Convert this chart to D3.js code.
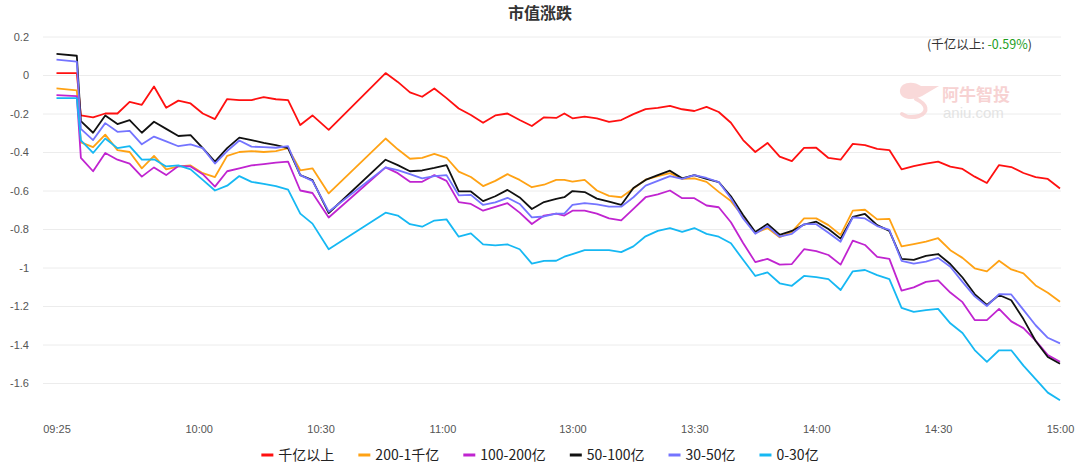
<!DOCTYPE html>
<html>
<head>
<meta charset="utf-8">
<script src="https://cdn.jsdelivr.net/npm/d3@7"></script>
<style>
body { margin: 0; background: #fff; }
svg { display: block; font-family: "Liberation Sans", Arial, "Noto Sans CJK SC", sans-serif; }
.cjk { font-family: "Noto Sans CJK SC", "Liberation Sans", sans-serif; }
</style>
</head>
<body>
<svg id="chart"></svg>
<script>
// sample times (every 3 min, data gap between 10:32 and 10:46)
let times = ["09:25","09:30","09:31","09:34","09:37","09:40","09:43","09:46","09:49","09:52",
    "09:55","09:58","10:01","10:04","10:07","10:10","10:13","10:16","10:19","10:22",
    "10:25","10:28","10:32","10:46","10:49","10:52","10:55","10:58","11:01","11:04",
    "11:07","11:10","11:13","11:16","11:19","11:22","11:25","11:28","11:30",
    "13:00","13:03","13:06","13:09","13:12","13:15","13:18","13:21","13:24","13:27",
    "13:30","13:33","13:36","13:39","13:42","13:45","13:48","13:51","13:54","13:57",
    "14:00","14:03","14:06","14:09","14:12","14:15","14:18","14:21","14:24","14:27",
    "14:30","14:33","14:36","14:39","14:42","14:45","14:48","14:51","14:54","14:57","15:00"];

let tickLabels = ["09:25","10:00","10:30","11:00","13:00","13:30","14:00","14:30","15:00"];
let yTicks = [0.2, 0, -0.2, -0.4, -0.6, -0.8, -1, -1.2, -1.4, -1.6];

let seriesNames = ["千亿以上", "200-1千亿", "100-200亿", "50-100亿", "30-50亿", "0-30亿"];
let seriesColors = ["#ff1010", "#ffa214", "#c024d0", "#111111", "#7474ff", "#16b8f3"];

let over1000 = [0.01, 0.01, -0.21, -0.22, -0.20, -0.20, -0.14, -0.155, -0.06, -0.17,
    -0.133, -0.148, -0.20, -0.229, -0.125, -0.13, -0.13, -0.115, -0.126, -0.13,
    -0.26, -0.21, -0.285, 0.01, -0.036, -0.09, -0.113, -0.07, -0.12, -0.174,
    -0.208, -0.248, -0.21, -0.20, -0.234, -0.265, -0.22, -0.223, -0.20,
    -0.225, -0.216, -0.225, -0.244, -0.234, -0.203, -0.177, -0.171, -0.16, -0.178,
    -0.187, -0.166, -0.192, -0.248, -0.338, -0.40, -0.353, -0.424, -0.447, -0.379,
    -0.378, -0.431, -0.44, -0.358, -0.364, -0.384, -0.39, -0.49, -0.473, -0.46,
    -0.45, -0.476, -0.488, -0.528, -0.561, -0.468, -0.478, -0.509, -0.53, -0.54, -0.59];

let from200to1000 = [-0.07, -0.08, -0.35, -0.375, -0.31, -0.39, -0.40, -0.485, -0.42, -0.49,
    -0.475, -0.47, -0.51, -0.53, -0.42, -0.40, -0.395, -0.40, -0.395, -0.38,
    -0.495, -0.485, -0.615, -0.33, -0.386, -0.435, -0.43, -0.41, -0.43, -0.502,
    -0.53, -0.577, -0.55, -0.515, -0.545, -0.583, -0.57, -0.545, -0.545,
    -0.554, -0.545, -0.60, -0.628, -0.635, -0.59, -0.544, -0.525, -0.51, -0.54,
    -0.537, -0.555, -0.607, -0.655, -0.735, -0.82, -0.795, -0.843, -0.815, -0.745,
    -0.745, -0.78, -0.831, -0.705, -0.70, -0.75, -0.747, -0.89, -0.878, -0.865,
    -0.848, -0.91, -0.95, -1.004, -1.02, -0.965, -1.01, -1.03, -1.093, -1.131, -1.178];

let from100to200 = [-0.105, -0.11, -0.43, -0.50, -0.405, -0.44, -0.46, -0.528, -0.48, -0.52,
    -0.473, -0.475, -0.515, -0.58, -0.50, -0.485, -0.47, -0.463, -0.455, -0.45,
    -0.60, -0.613, -0.74, -0.48, -0.51, -0.555, -0.555, -0.52, -0.55, -0.66,
    -0.67, -0.705, -0.685, -0.666, -0.715, -0.774, -0.73, -0.72, -0.73,
    -0.705, -0.705, -0.72, -0.745, -0.755, -0.695, -0.635, -0.62, -0.60, -0.64,
    -0.64, -0.678, -0.687, -0.765, -0.873, -0.972, -0.955, -0.985, -0.982, -0.905,
    -0.915, -0.935, -0.985, -0.86, -0.883, -0.945, -0.955, -1.12, -1.103, -1.075,
    -1.067, -1.13, -1.18, -1.273, -1.273, -1.215, -1.28, -1.315, -1.38, -1.455, -1.49];

let from50to100 = [0.11, 0.10, -0.24, -0.30, -0.21, -0.255, -0.234, -0.30, -0.243, -0.28,
    -0.317, -0.312, -0.38, -0.45, -0.38, -0.325, -0.338, -0.353, -0.364, -0.38,
    -0.52, -0.546, -0.717, -0.44, -0.468, -0.50, -0.496, -0.483, -0.468, -0.605,
    -0.605, -0.655, -0.63, -0.597, -0.636, -0.696, -0.66, -0.644, -0.635,
    -0.603, -0.608, -0.642, -0.658, -0.675, -0.587, -0.545, -0.52, -0.497, -0.537,
    -0.52, -0.54, -0.556, -0.63, -0.727, -0.816, -0.774, -0.83, -0.81, -0.777,
    -0.762, -0.80, -0.85, -0.737, -0.722, -0.78, -0.81, -0.955, -0.96, -0.94,
    -0.93, -0.982, -1.052, -1.138, -1.195, -1.143, -1.17, -1.268, -1.382, -1.465, -1.50];

let from30to50 = [0.08, 0.07, -0.28, -0.338, -0.25, -0.295, -0.29, -0.36, -0.32, -0.345,
    -0.37, -0.36, -0.38, -0.46, -0.395, -0.34, -0.372, -0.375, -0.378, -0.37,
    -0.52, -0.55, -0.71, -0.48, -0.494, -0.515, -0.537, -0.525, -0.52, -0.625,
    -0.623, -0.675, -0.662, -0.638, -0.67, -0.74, -0.735, -0.72, -0.72,
    -0.675, -0.666, -0.672, -0.684, -0.684, -0.635, -0.575, -0.55, -0.525, -0.54,
    -0.52, -0.535, -0.556, -0.64, -0.745, -0.825, -0.785, -0.84, -0.825, -0.775,
    -0.775, -0.82, -0.866, -0.74, -0.745, -0.785, -0.805, -0.965, -0.98, -0.97,
    -0.95, -0.996, -1.075, -1.15, -1.20, -1.138, -1.14, -1.22, -1.30, -1.365, -1.394];

let under30 = [-0.12, -0.12, -0.34, -0.405, -0.33, -0.38, -0.37, -0.44, -0.438, -0.475,
    -0.47, -0.49, -0.545, -0.60, -0.575, -0.525, -0.555, -0.566, -0.577, -0.595,
    -0.72, -0.772, -0.905, -0.715, -0.73, -0.775, -0.788, -0.756, -0.75, -0.84,
    -0.823, -0.88, -0.885, -0.88, -0.905, -0.98, -0.966, -0.965, -0.944,
    -0.93, -0.91, -0.91, -0.91, -0.92, -0.89, -0.838, -0.81, -0.796, -0.815,
    -0.795, -0.825, -0.84, -0.874, -0.96, -1.044, -1.025, -1.082, -1.095, -1.044,
    -1.05, -1.06, -1.117, -1.02, -1.013, -1.04, -1.06, -1.21, -1.23, -1.221,
    -1.215, -1.29, -1.34, -1.429, -1.49, -1.43, -1.43, -1.51, -1.58, -1.65, -1.69];

let allSeries = [over1000, from200to1000, from100to200, from50to100, from30to50, under30];

let width = 1078
let height = 473

// morning minutes from 09:25, afternoon continues after a one-slot break
function slot(t) {
    let p = t.split(":");
    let m = +p[0] * 60 + +p[1];
    return m <= 690 ? m - 565 : m - 653;
}

let xScale = d3.scaleLinear().domain([0, 247]).range([56.5, 1060]);
let yScale = d3.scaleLinear().domain([-1.8, 0.2]).range([421.5, 36.5]);

let svg = d3.select("#chart")
    .attr("width", width)
    .attr("height", height);

// y grid + labels
let yAxis = svg.append("g")
    .attr("transform", "translate(43,0)")
    .call(d3.axisLeft(yScale)
        .tickValues(yTicks)
        .tickSize(-1018)
        .tickPadding(14)
        .tickFormat(d => d === 0 ? "0" : String(+d.toFixed(1))));
yAxis.select(".domain").remove();
yAxis.selectAll("line").attr("stroke", "#ececec");
yAxis.selectAll("text").attr("fill", "#555").attr("font-size", 11);

// x labels
let xAxis = svg.append("g")
    .attr("transform", "translate(0,421.5)")
    .call(d3.axisBottom(xScale)
        .tickValues(tickLabels.map(slot))
        .tickSize(0)
        .tickPadding(4)
        .tickFormat((d, i) => tickLabels[i]));
xAxis.select(".domain").remove();
xAxis.selectAll("text").attr("fill", "#555").attr("font-size", 11);

// watermark
let mark = svg.append("g").attr("opacity", 0.8);
mark.append("path")
    .attr("d", "M900 92 C899 82 913 80 921 86 L939 86 L922 96 C913 101 901 100 900 92 Z")
    .attr("fill", "#f8d0d0");
mark.append("path")
    .attr("d", "M916 99 C927 104 929 112 919 116 C912 118 906 117 902 114")
    .attr("fill", "none")
    .attr("stroke", "#f8d0d0")
    .attr("stroke-width", 4)
    .attr("stroke-linecap", "round");
mark.append("text")
    .attr("class", "cjk")
    .text("阿牛智投")
    .attr("x", 942).attr("y", 101)
    .attr("font-size", 17).attr("font-weight", "bold")
    .attr("fill", "#f6c8c8");
mark.append("text")
    .text("aniu.com")
    .attr("x", 943).attr("y", 118)
    .attr("font-size", 15)
    .attr("fill", "#dedede");

// lines
let line = d3.line()
    .x(d => xScale(slot(d.t)))
    .y(d => yScale(d.v));

svg.append("g").attr("id", "lines")
    .selectAll("path")
    .data(allSeries)
    .join("path")
    .attr("d", vals => line(times.map((t, i) => ({t: t, v: vals[i]}))))
    .attr("fill", "none")
    .attr("stroke", (d, i) => seriesColors[i])
    .attr("stroke-width", 1.8)
    .attr("stroke-linejoin", "round");

// title
svg.append("text")
    .attr("class", "cjk")
    .text("市值涨跌")
    .attr("x", 540).attr("y", 19)
    .attr("text-anchor", "middle")
    .attr("font-size", 16).attr("font-weight", "bold")
    .attr("fill", "#333");

// top right note
let note = svg.append("text")
    .attr("class", "cjk")
    .attr("x", 927).attr("y", 49)
    .attr("font-size", 12.5)
    .attr("fill", "#333");
note.append("tspan").text("(千亿以上: ");
note.append("tspan").text(over1000[over1000.length - 1].toFixed(2) + "%").attr("fill", "#1d9e1d");
note.append("tspan").text(")");

// legend
let legend = svg.append("g");
let gap = 24;
let lx = 0;
seriesNames.forEach(function(name, i) {
    let item = legend.append("g").attr("transform", "translate(" + lx + ",0)");
    item.append("line")
        .attr("x1", 0).attr("x2", 12)
        .attr("y1", 455).attr("y2", 455)
        .attr("stroke", seriesColors[i])
        .attr("stroke-width", 3);
    let t = item.append("text")
        .attr("class", "cjk")
        .text(name)
        .attr("x", 17).attr("y", 455)
        .attr("dy", "0.35em")
        .attr("font-size", 14)
        .attr("fill", "#222");
    lx += 17 + t.node().getComputedTextLength() + gap;
});
legend.attr("transform", "translate(" + (540 - (lx - gap) / 2) + ",0)");
</script>
</body>
</html>
